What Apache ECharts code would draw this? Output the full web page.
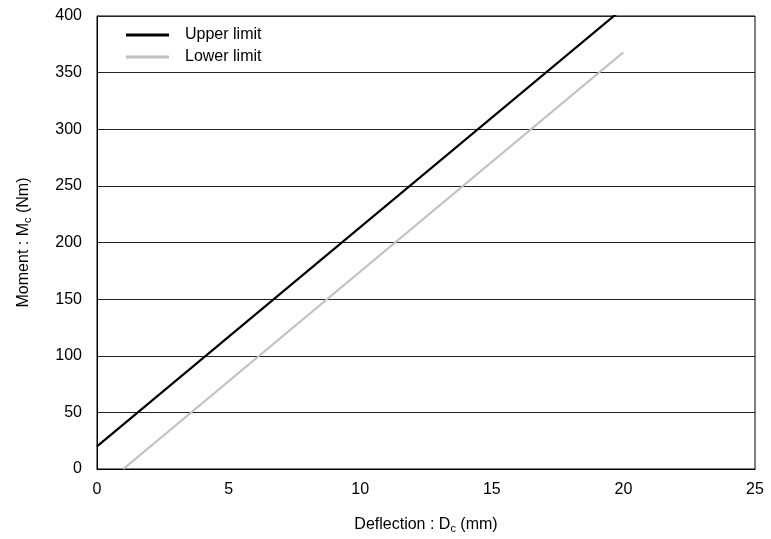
<!DOCTYPE html>
<html>
<head>
<meta charset="utf-8">
<script src="https://cdn.jsdelivr.net/npm/echarts@6/dist/echarts.min.js"></script>
<style>
  html, body { margin: 0; padding: 0; background: #fff; }
  #chart { width: 771px; height: 539px; }
</style>
</head>
<body>
<div id="chart"></div>
<script>
// Moment vs. deflection envelope: two straight limit lines
const seriesNames = ['Upper limit', 'Lower limit'];
const upperDeflection = [0, 20];
const upperMoment = [20, 407];
const lowerDeflection = [1, 20];
const lowerMoment = [0, 368];
const xTicks = [0, 5, 10, 15, 20, 25];
const yTicks = [0, 50, 100, 150, 200, 250, 300, 350, 400];

const font = 'Liberation Sans, Arial, sans-serif';
const chart = echarts.init(document.getElementById('chart'));

const pairs = (xs, ys) => xs.map((x, i) => [x, ys[i]]);

chart.setOption({
  animation: false,
  backgroundColor: '#fff',
  textStyle: { fontFamily: font },
  grid: { left: 97, top: 16, right: 16, bottom: 70, show: true, borderColor: '#000', borderWidth: 1 },
  legend: {
    left: 121, top: 22, orient: 'vertical', itemGap: 6,
    itemWidth: 43, itemHeight: 14,
    textStyle: { fontSize: 16, color: '#000', fontFamily: font, padding: [0, 0, 0, 11] },
    data: seriesNames.map(n => ({ name: n, icon: 'path://M0,5.5H43V8.5H0Z' }))
  },
  xAxis: {
    type: 'value', min: xTicks[0], max: xTicks[xTicks.length - 1], interval: 5,
    name: '{t|Deflection : D}{s|c}{t| (mm)}', nameLocation: 'middle', nameGap: 46,
    nameTextStyle: { rich: { t: { fontSize: 16, color: '#000', fontFamily: font }, s: { fontSize: 11, color: '#000', fontFamily: font, verticalAlign: 'bottom', padding: [8, 0, 0, 0] } } },
    axisLine: { show: true, lineStyle: { color: '#000', width: 1 } },
    axisTick: { show: false },
    splitLine: { show: false },
    axisLabel: { fontSize: 16, color: '#000', margin: 13, fontFamily: font }
  },
  yAxis: {
    type: 'value', min: yTicks[0], max: yTicks[yTicks.length - 1], interval: 50,
    name: '{t|Moment : M}{s|c}{t| (Nm)}', nameLocation: 'middle', nameGap: 64, nameRotate: 90,
    nameTextStyle: { rich: { t: { fontSize: 16, color: '#000', fontFamily: font }, s: { fontSize: 11, color: '#000', fontFamily: font, verticalAlign: 'bottom', padding: [8, 0, 0, 0] } } },
    axisLine: { show: true, lineStyle: { color: '#000', width: 1 } },
    axisTick: { show: false },
    splitLine: { show: true, lineStyle: { color: '#222', width: 1 } },
    axisLabel: { fontSize: 16, color: '#000', margin: 15, fontFamily: font }
  },
  series: [
    {
      name: seriesNames[0], type: 'line', data: pairs(upperDeflection, upperMoment),
      showSymbol: false, clip: true, color: '#000',
      lineStyle: { color: '#000', width: 2.2 }
    },
    {
      name: seriesNames[1], type: 'line', data: pairs(lowerDeflection, lowerMoment),
      showSymbol: false, clip: true, color: '#c0c0c0',
      lineStyle: { color: '#c0c0c0', width: 2.2 }
    }
  ]
});
</script>
</body>
</html>
